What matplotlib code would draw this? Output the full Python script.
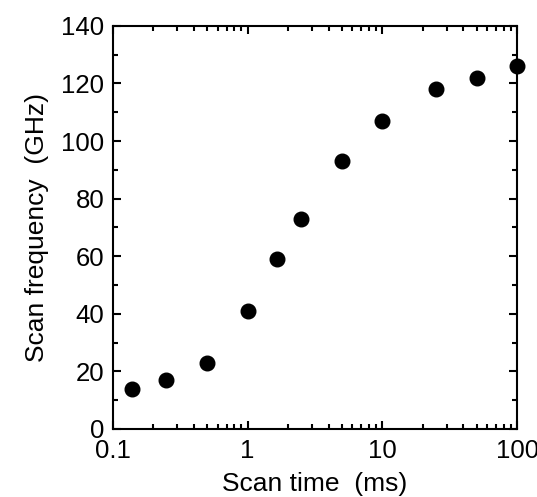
import matplotlib
matplotlib.use("Agg")
import matplotlib.pyplot as plt
from matplotlib.ticker import LogLocator, MultipleLocator, FixedFormatter, FixedLocator, NullFormatter

plt.rcParams['font.family'] = ['Liberation Sans', 'DejaVu Sans']

scan_time = [0.14, 0.25, 0.5, 1.0, 1.65, 2.5, 5.0, 10.0, 25.0, 50.0, 100.0]
scan_freq = [14, 17, 23, 41, 59, 73, 93, 107, 118, 122, 126]

fig = plt.figure(figsize=(5.37, 4.97), dpi=100)
ax = fig.add_axes([0.210, 0.137, 0.753, 0.811])

ax.plot(scan_time, scan_freq, 'o', color='black', markersize=10.5, clip_on=False, zorder=5)

ax.set_xscale('log')
ax.set_xlim(0.1, 100)
ax.set_ylim(0, 140)

ax.xaxis.set_major_locator(FixedLocator([0.1, 1, 10, 100]))
ax.xaxis.set_major_formatter(FixedFormatter(['0.1', '1', '10', '100']))
ax.xaxis.set_minor_locator(LogLocator(base=10, subs=range(2, 10)))
ax.xaxis.set_minor_formatter(NullFormatter())
ax.yaxis.set_major_locator(MultipleLocator(20))
ax.yaxis.set_minor_locator(MultipleLocator(10))

ax.tick_params(which='both', direction='in', top=True, right=True, width=1.5, labelsize=18.5)
ax.tick_params(which='major', length=6)
ax.tick_params(which='minor', length=3.5)
ax.tick_params(axis='x', which='major', pad=7)
ax.tick_params(axis='y', which='major', pad=6)
for s in ax.spines.values():
    s.set_linewidth(1.5)

ax.set_xlabel("Scan time  (ms)", fontsize=19)
ax.set_ylabel("Scan frequency  (GHz)", fontsize=19)
ax.xaxis.set_label_coords(0.5, -0.108)
ax.yaxis.set_label_coords(-0.158, 0.5)

fig.savefig("out.png", dpi=100)
